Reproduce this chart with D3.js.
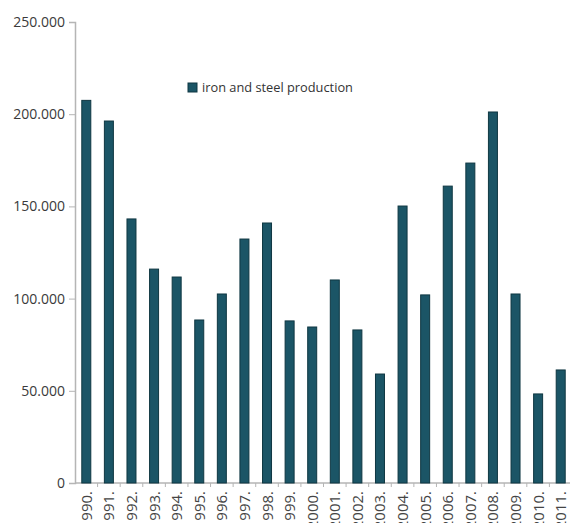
<!DOCTYPE html>
<html><head><meta charset="utf-8">
<script src="https://cdn.jsdelivr.net/npm/d3@7"></script>
<style>body{margin:0;background:#fff;overflow:hidden}</style>
</head><body>
<svg id="c" width="570" height="523"></svg>
<script>
const years = ["1990.","1991.","1992.","1993.","1994.","1995.","1996.","1997.","1998.","1999.","2000.","2001.","2002.","2003.","2004.","2005.","2006.","2007.","2008.","2009.","2010.","2011."];
const production = [207500,196300,143200,116000,111700,88400,102500,132300,141000,87900,84600,110100,83000,59100,150200,102000,161000,173500,201200,102500,48300,61300];
const yTicks = [0,50000,100000,150000,200000,250000];
const tickLabels = ["0","50.000","100.000","150.000","200.000","250.000"];
const seriesName = "iron and steel production";

const svg = d3.select("#c");
const x0 = 75, x1 = 572, yTop = 22, yBot = 483;
const xb = d3.scaleBand().domain(years).range([x0, x1]);
const y = d3.scaleLinear().domain([0,250000]).range([yBot, yTop]);
const font = "'Open Sans', sans-serif";
const axisCol = "#b5b5b5";

// y axis
const ya = svg.append("g").attr("transform",`translate(${x0},0)`)
  .call(d3.axisLeft(y).tickValues(yTicks).tickFormat((d,i)=>tickLabels[i]).tickSize(6).tickPadding(4));
ya.select(".domain").attr("stroke",axisCol).attr("stroke-width",1.5);
ya.selectAll(".tick line").attr("stroke",axisCol);
ya.selectAll(".tick text").attr("fill","#3a3a3a").style("font-family",font).style("font-size","14px");

// x axis
const xg = svg.append("g").attr("transform",`translate(0,${yBot})`);
xg.append("line").attr("x1",x0).attr("x2",x1).attr("stroke",axisCol).attr("stroke-width",1.5);
xg.selectAll("line.t").data(years).enter().append("line").attr("class","t")
  .attr("x1",d=>xb(d)+xb.bandwidth()).attr("x2",d=>xb(d)+xb.bandwidth()).attr("y1",0).attr("y2",4).attr("stroke",axisCol);
xg.selectAll("text").data(years).enter().append("text")
  .attr("transform",d=>`translate(${xb(d)+xb.bandwidth()/2+5.5},8) rotate(-90)`)
  .attr("text-anchor","end").attr("fill","#444")
  .style("font-family",font).style("font-size","15px").text(d=>d);

// bars
svg.append("g").selectAll("rect").data(years).enter().append("rect")
  .attr("x",d=>xb(d)+xb.bandwidth()/2-4.5).attr("width",9)
  .attr("y",(d,i)=>y(production[i])).attr("height",(d,i)=>yBot-y(production[i]))
  .attr("fill","#1b5566").attr("stroke","#0f3742").attr("stroke-width",1);

// legend
const lg = svg.append("g");
lg.append("rect").attr("x",188).attr("y",83).attr("width",9).attr("height",9).attr("fill","#1b5566").attr("stroke","#0f3742");
lg.append("text").attr("x",202).attr("y",92).attr("fill","#333").style("font-family",font).style("font-size","12.8px").text(seriesName);
</script>
</body></html>
